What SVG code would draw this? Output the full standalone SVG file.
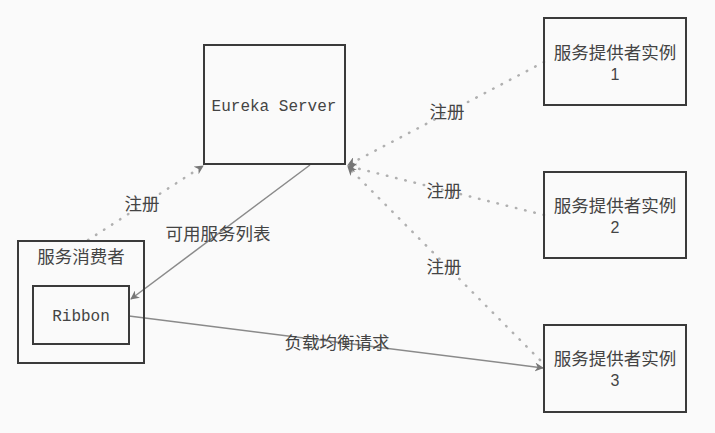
<svg xmlns="http://www.w3.org/2000/svg" width="715" height="433" viewBox="0 0 715 433">
<style>
.box{fill:none;stroke:#3a3a3a;stroke-width:2}
.cjk{font-family:"Noto Sans CJK SC","Noto Sans",sans-serif;font-size:17.5px;fill:#444}
.num{font-family:"Liberation Sans",Arial,sans-serif;font-size:16px;fill:#444}
.mono{font-family:"Liberation Mono","DejaVu Sans Mono",monospace;font-size:16px;fill:#444}
.solid{fill:none;stroke:#8a8a8a;stroke-width:1.5}
.dot{fill:none;stroke:#b0b0b0;stroke-width:2.5;stroke-dasharray:0.5 9;stroke-linecap:round}
</style>
<defs>
<marker id="arr" viewBox="0 0 10 10" refX="9" refY="5" markerWidth="9" markerHeight="9" markerUnits="userSpaceOnUse" orient="auto">
<path d="M0,0 L10,5 L0,10 L3,5 Z" fill="#777"/>
</marker>
</defs>
<rect width="715" height="433" fill="#fafafa"/>
<g id="connectors">
<line class="dot" x1="88" y1="240" x2="203" y2="166" marker-end="url(#arr)"/>
<line class="solid" x1="310" y1="165" x2="131" y2="299" marker-end="url(#arr)"/>
<line class="solid" x1="129" y1="316" x2="543" y2="368" marker-end="url(#arr)"/>
<line class="dot" x1="544" y1="62" x2="348" y2="165" marker-end="url(#arr)"/>
<line class="dot" x1="544" y1="215" x2="348" y2="166" marker-end="url(#arr)"/>
<line class="dot" x1="540" y1="360" x2="348" y2="167" marker-end="url(#arr)"/>
<text class="cjk" x="142" y="210" text-anchor="middle">注册</text>
<text class="cjk" x="218" y="240" text-anchor="middle">可用服务列表</text>
<text class="cjk" x="337" y="349" text-anchor="middle">负载均衡请求</text>
<text class="cjk" x="447" y="118" text-anchor="middle">注册</text>
<text class="cjk" x="444" y="197" text-anchor="middle">注册</text>
<text class="cjk" x="444" y="273" text-anchor="middle">注册</text>
</g>
<g id="eureka">
<rect class="box" x="204" y="45" width="141" height="119"/>
<text class="mono" x="274" y="111" text-anchor="middle">Eureka Server</text>
</g>
<g id="consumer">
<rect class="box" x="18" y="241" width="126" height="122"/>
<text class="cjk" x="81" y="263" text-anchor="middle">服务消费者</text>
</g>
<g id="ribbon">
<rect class="box" x="33" y="286" width="96" height="58"/>
<text class="mono" x="81" y="321" text-anchor="middle">Ribbon</text>
</g>
<g id="provider1">
<rect class="box" x="544" y="18" width="142" height="87"/>
<text class="cjk" x="615" y="59" text-anchor="middle">服务提供者实例</text>
<text class="num" x="615" y="80" text-anchor="middle">1</text>
</g>
<g id="provider2">
<rect class="box" x="544" y="172" width="142" height="86"/>
<text class="cjk" x="615" y="212" text-anchor="middle">服务提供者实例</text>
<text class="num" x="615" y="233" text-anchor="middle">2</text>
</g>
<g id="provider3">
<rect class="box" x="544" y="325" width="142" height="87"/>
<text class="cjk" x="615" y="365" text-anchor="middle">服务提供者实例</text>
<text class="num" x="615" y="386" text-anchor="middle">3</text>
</g>
</svg>
